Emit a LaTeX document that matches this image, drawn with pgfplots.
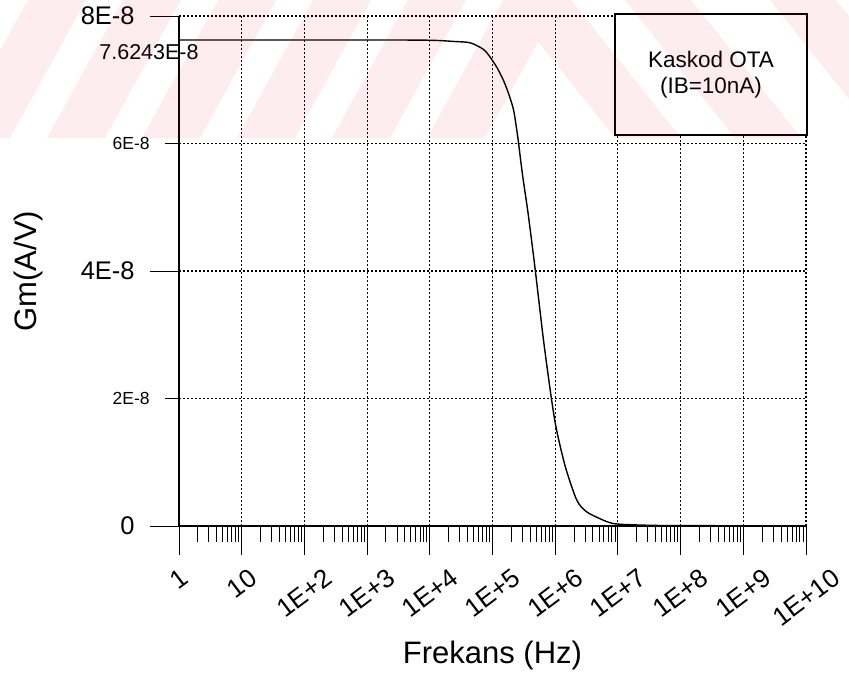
\documentclass[border=0pt]{standalone}
\usepackage{fontspec}
\setmainfont{Liberation Sans}
\usepackage{graphicx}
\usepackage{pgfplots}
\pgfplotsset{compat=1.18}

\newcommand{\fs}[1]{\fontsize{#1}{#1}\selectfont}
\newcommand{\xl}[1]{\rotatebox{37}{\fs{13}#1}}
\definecolor{wm}{RGB}{240,30,60}

\begin{document}
\begin{tikzpicture}
\useasboundingbox (-89.5pt,-75pt) rectangle (335pt,263pt);
\begin{axis}[
  at={(0pt,0pt)}, anchor=south west,
  scale only axis, width=313.5pt, height=255pt,
  xmode=log, xmin=1, xmax=1e10,
  ymin=0, ymax=8e-8,
  axis lines*=left,
  axis line style={-, line width=0.75pt},
  tick align=outside,
  major tick length=14.5pt, minor tick length=8pt,
  tick style={black, line width=0.5pt},
  xtick={1,10,100,1e3,1e4,1e5,1e6,1e7,1e8,1e9,1e10},
  xticklabels={\xl{1},\xl{10},\xl{1E+2},\xl{1E+3},\xl{1E+4},\xl{1E+5},\xl{1E+6},\xl{1E+7},\xl{1E+8},\xl{1E+9},\xl{1E+10}},
  minor xtick={2,3,4,5,6,7,8,9,
    20,30,40,50,60,70,80,90,
    200,300,400,500,600,700,800,900,
    2e3,3e3,4e3,5e3,6e3,7e3,8e3,9e3,
    2e4,3e4,4e4,5e4,6e4,7e4,8e4,9e4,
    2e5,3e5,4e5,5e5,6e5,7e5,8e5,9e5,
    2e6,3e6,4e6,5e6,6e6,7e6,8e6,9e6,
    2e7,3e7,4e7,5e7,6e7,7e7,8e7,9e7,
    2e8,3e8,4e8,5e8,6e8,7e8,8e8,9e8,
    2e9,3e9,4e9,5e9,6e9,7e9,8e9,9e9},
  xticklabel style={anchor=north, inner sep=0pt, yshift=-6pt},
  ytick={0,4e-8,8e-8},
  yticklabels={{\fs{12.75}0},{\fs{12.75}4E-8},{\fs{12.75}8E-8}},
  yticklabel style={anchor=east, inner sep=0pt, xshift=-7.5pt},
  extra y ticks={2e-8,6e-8},
  extra y tick labels={{\fs{8.75}2E-8},{\fs{8.75}6E-8}},
  extra y tick style={major tick length=7pt, grid=major},
  scaled y ticks=false,
  grid=major,
  major grid style={black, line width=0.55pt, dash pattern=on 0.9pt off 1.1pt},
  xlabel={Frekans (Hz)}, ylabel={Gm(A/V)},
  xlabel style={at={(axis description cs:0.5,-0.2529)}, anchor=center, font=\fs{15.5}},
  ylabel style={at={(axis description cs:-0.2408,0.5)}, anchor=center, font=\fs{15.5}},
]
\addplot[black, line width=0.7pt, smooth, tension=0.45] coordinates {
(1,7.6243e-8) (1e3,7.6243e-8) (1e4,7.62e-8) (2.5e4,7.60e-8) (4.4e4,7.58e-8)
(7.1e4,7.48e-8) (9.1e4,7.36e-8) (1.18e5,7.19e-8) (1.48e5,7.00e-8)
(1.78e5,6.80e-8) (2.14e5,6.55e-8) (2.34e5,6.33e-8) (2.57e5,6.05e-8)
(3.0e5,5.52e-8) (3.7e5,4.90e-8) (4.8e5,4.02e-8)
(6.5e5,2.92e-8) (8.7e5,2.00e-8) (1.05e6,1.51e-8) (1.45e6,0.93e-8)
(2.2e6,0.41e-8) (3.2e6,0.22e-8) (6.6e6,0.07e-8) (1e7,0.03e-8)
(3e7,0.012e-8) (1e8,0.006e-8) (1e10,0.003e-8)
};
\end{axis}
% legend box
\draw[black, line width=0.6pt, fill=white] (218pt,195.5pt) rectangle (314pt,256pt);
\node[align=center, font=\fs{11.25}, inner sep=0pt] at (266pt,225.75pt)
  {Kaskod OTA\\[1.5pt](IB=10nA)};
% special value label
\node[anchor=east, inner sep=0pt, font=\fs{10.75}] at (10pt,237pt) {7.6243E-8};
% watermark stripes
\begin{scope}
\clip (-89.5pt,194pt) rectangle (335pt,263pt);
\fill[wm, fill opacity=0.08]
  (-113.5pt,194pt) -- (-84.5pt,194pt) -- (-46.5pt,263pt) -- (-75.5pt,263pt) -- cycle
  (-66pt,194pt) -- (-37pt,194pt) -- (1pt,263pt) -- (-28pt,263pt) -- cycle
  (-18.5pt,194pt) -- (10.5pt,194pt) -- (48.5pt,263pt) -- (19.5pt,263pt) -- cycle
  (29pt,194pt) -- (58pt,194pt) -- (96pt,263pt) -- (67pt,263pt) -- cycle
  (76.5pt,194pt) -- (105.5pt,194pt) -- (143.5pt,263pt) -- (114.5pt,263pt) -- cycle
  (124pt,194pt) -- (153pt,194pt) -- (191pt,263pt) -- (162pt,263pt) -- cycle
  (218pt,194pt) -- (251pt,194pt) -- (196pt,263pt) -- (163pt,263pt) -- cycle
  (278pt,194pt) -- (311pt,194pt) -- (256pt,263pt) -- (223pt,263pt) -- cycle
  (350.5pt,194pt) -- (383.5pt,194pt) -- (328.5pt,263pt) -- (295.5pt,263pt) -- cycle;
\end{scope}
\end{tikzpicture}
\end{document}
